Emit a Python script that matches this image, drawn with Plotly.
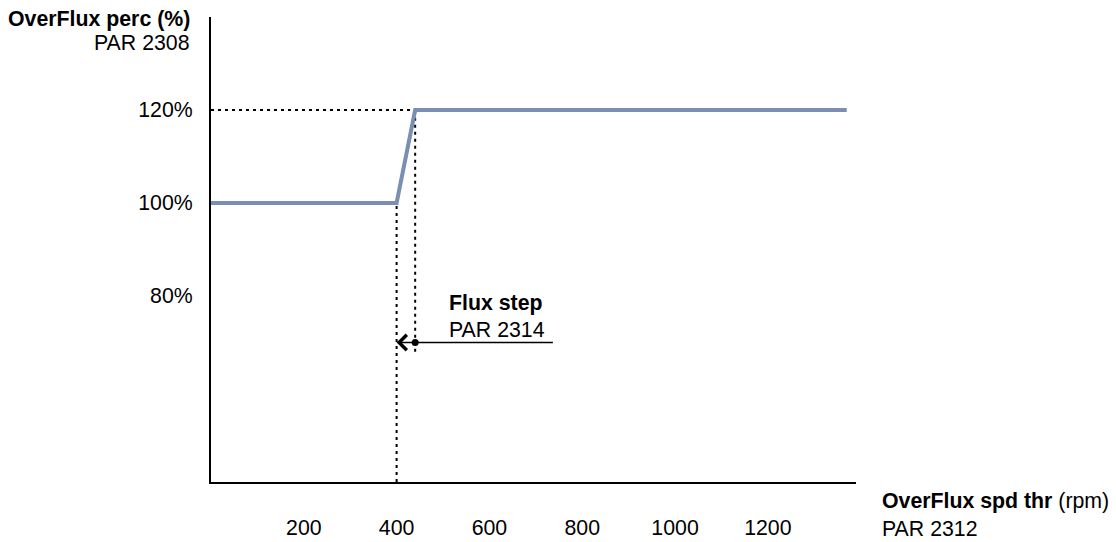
import plotly.graph_objects as go

# speed (rpm) and overflux percentage of the characteristic
speed_rpm = [0, 400, 440, 1370]
overflux_perc = [100, 100, 120, 120]

# dotted guide lines
guide_400_x = [400, 400]
guide_400_y = [40, 100]
guide_440_x = [440, 440]
guide_440_y = [68, 120]
guide_120_x = [0, 440]
guide_120_y = [120, 120]

# flux step marker (dot at 440 rpm, arrow to 400 rpm, tail at 740 rpm)
step_dot_x = [440]
step_dot_y = [70]
step_head = 400
step_tail = 740
step_level = 70

x_ticks = [200, 400, 600, 800, 1000, 1200]
y_ticks = [80, 100, 120]
y_ticktext = ['80%', '100%', '120%']

FONT = 'Liberation Sans, Arial, sans-serif'
LINE_BLUE = '#7b8fb2'

fig = go.Figure()

dotted = dict(color='black', width=2, dash='3px,4px')
for gx, gy in [(guide_400_x, guide_400_y), (guide_440_x, guide_440_y),
               (guide_120_x, guide_120_y)]:
    fig.add_trace(go.Scatter(x=gx, y=gy, mode='lines', line=dotted,
                             hoverinfo='skip', showlegend=False))

fig.add_trace(go.Scatter(x=speed_rpm, y=overflux_perc, mode='lines',
                         line=dict(color=LINE_BLUE, width=4),
                         showlegend=False, cliponaxis=False))

fig.add_trace(go.Scatter(x=step_dot_x, y=step_dot_y, mode='markers',
                         marker=dict(color='black', size=7),
                         showlegend=False))

# arrow of the flux step
fig.add_annotation(x=step_head, y=step_level, ax=step_tail, ay=step_level,
                   xref='x', yref='y', axref='x', ayref='y',
                   text='', showarrow=True, arrowhead=4, arrowsize=2,
                   arrowwidth=1.5, arrowcolor='black')

fig.add_annotation(x=508, y=78.5, xref='x', yref='y', text='<b>Flux step</b>',
                   showarrow=False, xanchor='left', yanchor='middle')
fig.add_annotation(x=508, y=72.7, xref='x', yref='y', text='PAR 2314',
                   showarrow=False, xanchor='left', yanchor='middle')

# axis titles
fig.add_annotation(x=0, y=1, xref='paper', yref='paper', xshift=-19, yshift=-2,
                   text='<b>OverFlux perc (%)</b>', showarrow=False,
                   xanchor='right', yanchor='middle')
fig.add_annotation(x=0, y=1, xref='paper', yref='paper', xshift=-19, yshift=-26,
                   text='PAR 2308', showarrow=False,
                   xanchor='right', yanchor='middle')
fig.add_annotation(x=1, y=0, xref='paper', yref='paper', xshift=24, yshift=-61,
                   text='<b>OverFlux spd thr</b> (rpm)<br>PAR 2312',
                   showarrow=False, align='left',
                   xanchor='left', yanchor='bottom')

fig.update_layout(
    width=1116, height=542,
    margin=dict(l=211, r=260, t=17, b=60),
    plot_bgcolor='white', paper_bgcolor='white',
    font=dict(family=FONT, size=21.3, color='black'),
    showlegend=False,
    xaxis=dict(range=[0, 1390], showgrid=False, zeroline=False,
               showline=True, linecolor='black', linewidth=2,
               tickvals=x_ticks, ticks='', ticklabelstandoff=25,
               automargin=False),
    yaxis=dict(range=[40, 140], showgrid=False, zeroline=False,
               showline=True, linecolor='black', linewidth=2,
               tickvals=y_ticks, ticktext=y_ticktext, ticks='',
               ticklabelstandoff=12, automargin=False),
)

# the page body has a default 8px margin; drop it so the chart sits at 0,0
fig.write_html("out.html", config={'displayModeBar': False},
               post_script="document.body.style.margin = '0';")
